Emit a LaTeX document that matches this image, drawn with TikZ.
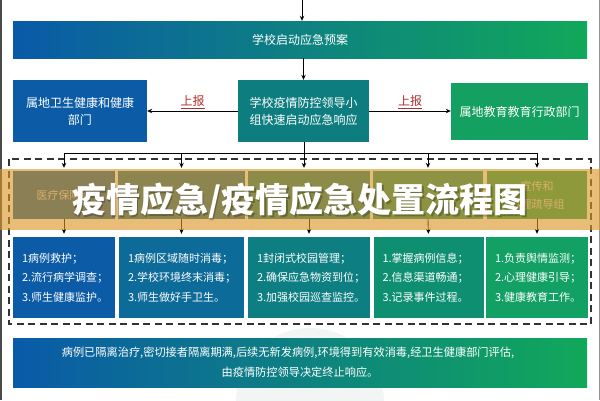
\documentclass[tikz,border=0pt]{standalone}
\usepackage{fontspec}
\setmainfont{Noto Sans CJK SC}
\usetikzlibrary{arrows.meta}
\definecolor{cblue}{HTML}{0B5BA6}
\definecolor{cbt}{HTML}{0C6B98}
\definecolor{cteal}{HTML}{0D7E82}
\definecolor{ctg}{HTML}{0F8F72}
\definecolor{cgreen}{HTML}{12A064}
\definecolor{gradL}{HTML}{0A5AA8}
\definecolor{gradR}{HTML}{11A85A}
\definecolor{midbox}{HTML}{0E7D80}
\definecolor{rightbox}{HTML}{13A060}
\definecolor{repred}{HTML}{B0302E}
\definecolor{bandor}{HTML}{DB9625}
\definecolor{dashgrey}{HTML}{333333}
\definecolor{wmark}{HTML}{F1F5F3}
\definecolor{edgegrey}{HTML}{4A4A4A}
\tikzset{
  box/.style={draw=none, inner sep=0pt, text=white, align=center,
    font=\fontsize{12}{17}\selectfont},
  lbox/.style={draw=none, inner xsep=9pt, inner ysep=0pt, text=white, align=left,
    font=\fontsize{11}{19.5}\selectfont, minimum height=81pt, anchor=center},
  gbox/.style={draw=none, inner sep=0pt, text=white!85!black, align=center,
    font=\fontsize{11}{18}\selectfont, minimum height=48pt},
  arr/.style={draw=black, line width=0.9pt, -{Stealth[length=5pt,width=4.5pt]}},
  ln/.style={draw=black, line width=0.9pt},
  rep/.style={text=repred, font=\fontsize{12}{14}\selectfont, inner sep=1pt},
}
\begin{document}
\begin{tikzpicture}[x=1pt,y=-1pt]
\useasboundingbox (0,0) rectangle (600,400);
\fill[white] (0,0) rectangle (600,400);
\fill[wmark] (310,402) circle (74pt);
\fill[edgegrey] (0,0) rectangle (2,400);
\fill[edgegrey!60] (599,0) rectangle (600,400);

% top banner
\coordinate (top) at (302,0);
\node[box, minimum width=574pt, minimum height=37pt, left color=gradL, right color=gradR] (plan) at (300,39.5) {学校启动应急预案};
\draw[arr] (top) -- (plan.north -| top);

% row 2
\node[box, fill=cblue, minimum width=134pt, minimum height=62pt] (health) at (80,111) {属地卫生健康和健康\\部门};
\node[box, fill=midbox, minimum width=131pt, minimum height=62pt] (lead) at (303.5,111) {学校疫情防控领导小\\组快速启动应急响应};
\node[box, fill=rightbox, minimum width=137pt, minimum height=57pt] (edu) at (519.5,111.5) {属地教育教育行政部门};
\draw[arr] (plan.south -| lead) -- (lead.north);
\draw[arr] (lead.west) -- (health.east) node[rep, midway, above=1pt] {\underline{上报}};
\draw[arr] (lead.east) -- (lead.east -| edu.west) node[rep, midway, above=1pt] {\underline{上报}};

% dashed frame
\draw[dashgrey, line width=1.3pt, dash pattern=on 7pt off 4.5pt] (9,159) rectangle (591,324);

% group row (under band)
\node[gbox, fill=cblue, minimum width=102pt] (g1) at (64,195) {医疗保障组};
\node[gbox, fill=cbt, minimum width=127pt] (g2) at (181.5,195) {};
\node[gbox, fill=cteal, minimum width=122pt] (g3) at (309,195) {};
\node[gbox, fill=ctg, minimum width=110pt] (g4) at (428,195) {};
\node[gbox, fill=cgreen, minimum width=100pt] (g5) at (537,195) {宣传和\\心理疏导组};

% task boxes
\node[lbox, fill=cblue, minimum width=102pt, text width=84pt] (b1) at (64,277.5) {1病例救护；\\2.流行病学调查；\\3.师生健康监护。};
\node[lbox, fill=cbt, minimum width=125pt, text width=107pt] (b2) at (181.5,277.5) {1病例区域随时消毒；\\2.学校环境终末消毒；\\3.师生做好手卫生。};
\node[lbox, fill=cteal, minimum width=122pt, text width=104pt] (b3) at (309,277.5) {1封闭式校园管理；\\2.确保应急物资到位；\\3.加强校园巡查监控。};
\node[lbox, fill=ctg, minimum width=109pt, text width=92pt] (b4) at (428.5,277.5) {1.掌握病例信息；\\2.信息渠道畅通；\\3.记录事件过程。};
\node[lbox, fill=cgreen, minimum width=100pt, text width=84pt] (b5) at (537,277.5) {1.负责舆情监测；\\2.心理健康引导；\\3.健康教育工作。};

\foreach \i in {1,...,5}{
  \draw[arr, shorten >=3pt] (g\i.south) -- (b\i.north);
}

% distribution
\coordinate (J) at (304,153);
\draw[ln] (lead.south -| J) -- (J);
\draw[ln] (g1.north |- J) -- (g5.north |- J);
\draw[arr, shorten >=3pt] (g1.north |- J) -- (g1.north);
\draw[arr, shorten >=3pt] (g2.north |- J) -- (g2.north);
\draw[arr, shorten >=3pt] (J) -- (J |- g3.north);
\draw[arr, shorten >=3pt] (g4.north |- J) -- (g4.north);
\draw[arr, shorten >=3pt] (g5.north |- J) -- (g5.north);

% overlay band and title
\fill[bandor, opacity=0.62] (0,169) rectangle (600,230);
\node[text=black, opacity=0.25, font=\fontsize{34}{36}\selectfont\bfseries] at (301.5,202.5) {疫情应急/疫情应急处置流程图};
\node[text=white, font=\fontsize{34}{36}\selectfont\bfseries] (title) at (300,201) {疫情应急/疫情应急处置流程图};

% bottom banner
\node[box, minimum width=574pt, minimum height=49pt, left color=gradL, right color=gradR,
  font=\fontsize{11.2}{20}\selectfont] (end) at (300,362.5)
  {\hspace*{-24pt}病例已隔离治疗,密切接者隔离期满,后续无新发病例,环境得到有效消毒,经卫生健康部门评估,\\由疫情防控领导决定终止响应。};
\end{tikzpicture}
\end{document}
